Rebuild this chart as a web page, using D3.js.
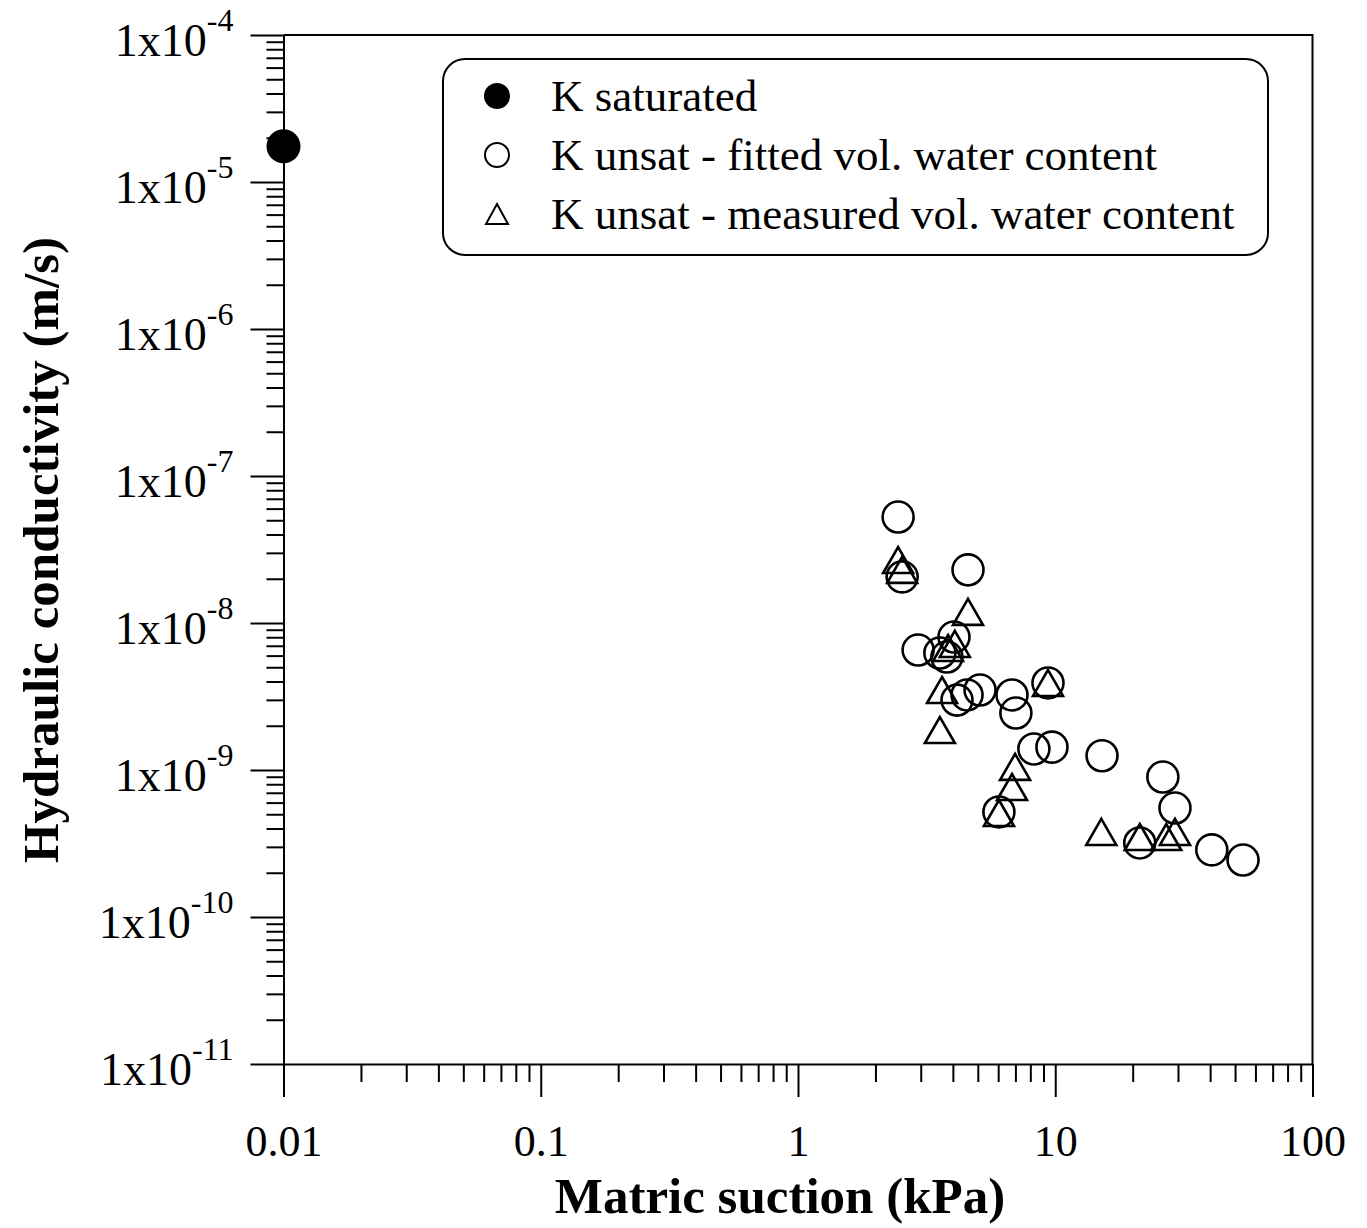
<!DOCTYPE html>
<html>
<head>
<meta charset="utf-8">
<script src="https://cdn.jsdelivr.net/npm/d3@7"></script>
<style>
  body { margin: 0; background: #fff; }
  svg { display: block; }
  text { font-family: "Liberation Serif", "DejaVu Serif", serif; fill: #000; }
</style>
</head>
<body>
<div id="chart"></div>
<script>
// saturated conductivity
const satSuction = [0.01]
const satK = [1.75e-5]

// K unsat - fitted vol. water content (circles)
const fitSuction = [2.45, 2.54, 4.58, 2.93, 3.56, 3.79, 4.04, 4.15, 4.54, 5.10, 6.79,
    7.03, 9.37, 8.26, 9.71, 15.2, 26.2, 29.2, 6.04, 21.3, 40.6, 53.7]
const fitK = [5.26e-8, 2.06e-8, 2.30e-8, 6.55e-9, 6.25e-9, 5.87e-9, 8.03e-9, 2.99e-9, 3.24e-9, 3.50e-9, 3.24e-9,
    2.44e-9, 3.91e-9, 1.39e-9, 1.43e-9, 1.25e-9, 8.96e-10, 5.51e-10, 5.18e-10, 3.19e-10, 2.86e-10, 2.44e-10]

// K unsat - measured vol. water content (triangles)
const measSuction = [2.45, 2.54, 4.58, 3.83, 4.07, 3.63, 3.56, 9.37, 6.98, 6.79, 6.04, 15.1, 21.3, 27.0, 29.2]
const measK = [2.68e-8, 2.30e-8, 1.19e-8, 6.76e-9, 7.2e-9, 3.50e-9, 1.87e-9, 3.91e-9, 1.05e-9, 7.66e-10, 5.10e-10,
    3.79e-10, 3.50e-10, 3.50e-10, 3.79e-10]

// axis ticks
const xTicks = [0.01, 0.1, 1, 10, 100]
const xTickLabels = ['0.01', '0.1', '1', '10', '100']
const yExponents = [-4, -5, -6, -7, -8, -9, -10, -11]

const legendLabels = ['K saturated', 'K unsat - fitted vol. water content', 'K unsat - measured vol. water content']

const svgWidth = 1367
const svgHeight = 1228
const margin = { top: 35, left: 283.5 }
const width = 1029
const height = 1029

const svg = d3.select('#chart')
    .append('svg')
    .attr('width', svgWidth)
    .attr('height', svgHeight)

const chartGroup = svg.append('g')
    .attr('transform', `translate(${margin.left}, ${margin.top})`)

// scales
const xScale = d3.scaleLog().domain([0.01, 100]).range([0, width])
const yScale = d3.scaleLog().domain([1e-11, 1e-4]).range([height, 0])

// minor tick values (2..9 in every decade)
function minors(lo, hi) {
    const out = []
    for (let e = lo; e < hi; e++) {
        for (let m = 2; m <= 9; m++) out.push(m * Math.pow(10, e))
    }
    return out
}

// frame (top and right)
chartGroup.append('path')
    .attr('d', `M0,0H${width}V${height}`)
    .attr('fill', 'none')
    .attr('stroke', '#000')
    .attr('stroke-width', 2)

// x axis minor ticks
chartGroup.append('g')
    .attr('transform', `translate(0, ${height})`)
    .call(d3.axisBottom(xScale).tickValues(minors(-2, 2)).tickSize(18).tickFormat(''))
    .call(g => g.select('.domain').remove())

// x axis major
const xAxis = chartGroup.append('g')
    .attr('transform', `translate(0, ${height})`)
    .call(d3.axisBottom(xScale).tickValues(xTicks).tickSize(33).tickSizeOuter(0)
        .tickFormat((d, i) => xTickLabels[i]))
xAxis.selectAll('text')
    .attr('y', 60)
    .attr('dy', '0.72em')
    .style('font-size', '44px')

// y axis minor ticks
chartGroup.append('g')
    .call(d3.axisLeft(yScale).tickValues(minors(-11, -4)).tickSize(17).tickFormat(''))
    .call(g => g.select('.domain').remove())

// y axis major
const yAxis = chartGroup.append('g')
    .call(d3.axisLeft(yScale).tickValues(yExponents.map(e => Math.pow(10, e))).tickSize(33).tickSizeOuter(0)
        .tickFormat(''))
yAxis.selectAll('.tick').each(function(d) {
    const e = Math.round(Math.log10(d))
    const t = d3.select(this).select('text')
        .attr('x', -50)
        .attr('dy', null)
        .attr('y', 20)
        .style('font-size', '46px')
        .attr('text-anchor', 'end')
    t.append('tspan').text('1x10')
    t.append('tspan').attr('dy', -25).style('font-size', '32px').text(String(e))
})

chartGroup.selectAll('.domain').attr('stroke-width', 2)
chartGroup.selectAll('.tick line').attr('stroke-width', 2)

// markers
chartGroup.append('g')
    .selectAll('circle')
    .data(fitSuction)
    .enter()
    .append('circle')
    .attr('cx', d => xScale(d))
    .attr('cy', (d, i) => yScale(fitK[i]))
    .attr('r', 15.5)
    .attr('fill', 'none')
    .attr('stroke', '#000')
    .attr('stroke-width', 2.6)

function tri(w, h) {
    return `M0,${-h / 2}L${w / 2},${h / 2}L${-w / 2},${h / 2}Z`
}

chartGroup.append('g')
    .selectAll('path')
    .data(measSuction)
    .enter()
    .append('path')
    .attr('transform', (d, i) => `translate(${xScale(d)}, ${yScale(measK[i])})`)
    .attr('d', tri(30, 26))
    .attr('fill', 'none')
    .attr('stroke', '#000')
    .attr('stroke-width', 2.6)
    .attr('stroke-linejoin', 'miter')

chartGroup.append('g')
    .selectAll('circle')
    .data(satSuction)
    .enter()
    .append('circle')
    .attr('cx', d => xScale(d))
    .attr('cy', (d, i) => yScale(satK[i]))
    .attr('r', 17)
    .attr('fill', '#000')

// axis titles
svg.append('text')
    .attr('x', margin.left + width / 2 - 18)
    .attr('y', 1213)
    .attr('text-anchor', 'middle')
    .style('font-size', '51px')
    .style('font-weight', 'bold')
    .text('Matric suction (kPa)')

svg.append('text')
    .attr('transform', 'translate(58, 550) rotate(-90)')
    .attr('text-anchor', 'middle')
    .style('font-size', '51px')
    .style('font-weight', 'bold')
    .text('Hydraulic conductivity (m/s)')

// legend
const legend = svg.append('g').attr('transform', 'translate(443, 59)')
legend.append('rect')
    .attr('width', 825)
    .attr('height', 196)
    .attr('rx', 22)
    .attr('fill', '#fff')
    .attr('stroke', '#000')
    .attr('stroke-width', 2)

const rows = legend.selectAll('.row')
    .data(legendLabels)
    .enter()
    .append('g')
    .attr('transform', (d, i) => `translate(54, ${37 + i * 59})`)

rows.append('text')
    .attr('x', 54)
    .attr('y', 15)
    .style('font-size', '45px')
    .text(d => d)

rows.filter((d, i) => i === 0).append('circle').attr('r', 13).attr('fill', '#000')
rows.filter((d, i) => i === 1).append('circle').attr('r', 12)
    .attr('fill', 'none').attr('stroke', '#000').attr('stroke-width', 2)
rows.filter((d, i) => i === 2).append('path').attr('d', tri(22, 20))
    .attr('fill', 'none').attr('stroke', '#000').attr('stroke-width', 2)
</script>
</body>
</html>
